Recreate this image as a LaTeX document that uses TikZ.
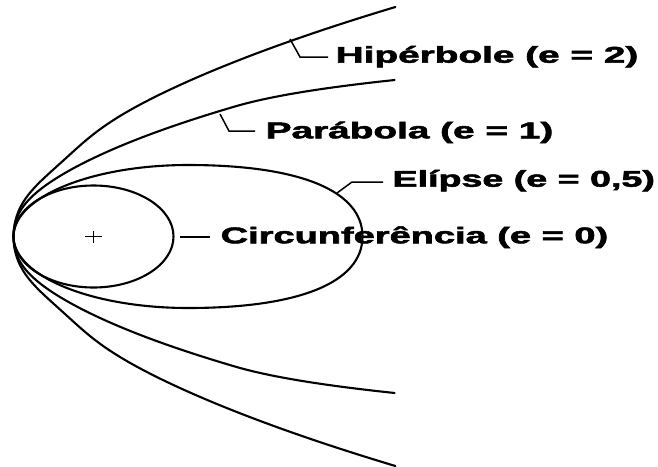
\documentclass[tikz,border=0pt]{standalone}
\usepackage{fontspec}
\setmainfont{Liberation Sans}
\newfontfamily\lblfont[FakeBold=2]{Liberation Sans Bold}
\usepackage{graphicx}
\begin{document}
\begin{tikzpicture}[x=1pt,y=-1pt,
  curve/.style={line width=2.1pt, line join=round, line cap=round},
  leader/.style={line width=1.5pt},
  lbl/.style={anchor=base west, inner sep=0pt, font=\lblfont\fontsize{38}{40}\selectfont}]
\useasboundingbox (0,0) rectangle (658,466);
\fill[white] (0,0) rectangle (658,466);

% circle (e = 0)
\draw[curve] (93.5,236.5) ellipse [x radius=80, y radius=51];
\coordinate (ctr) at (93.5,236.5);
\draw[line width=1.2pt] ([xshift=-8.5pt]ctr) -- ([xshift=8.5pt]ctr)
  ([yshift=6pt]ctr) -- ([yshift=-6pt]ctr);

% ellipse (e = 0,5)
\draw[curve] (13.5,236.5) .. controls (13.5,197) and (91.6,165) .. (188,165)
  .. controls (299.7,165) and (362.5,190.7) .. (362.5,236.5)
  .. controls (362.5,282.3) and (299.7,308) .. (188,308)
  .. controls (91.6,308) and (13.5,276) .. cycle;

% parabola (e = 1)
\draw[curve] plot[domain=-156.5:156.5, samples=181, variable=\t, smooth]
  ({13.5 + (\t/10)*(\t/10)*(1.31 - 0.4*exp(-(\t/40)*(\t/40)) + 0.000353*max(abs(\t)-130,0)*max(abs(\t)-130,0))},
   {236.5-\t});

% hyperbola (e = 2)
\draw[curve] plot[domain=-229.5:229.5, samples=201, variable=\t, smooth]
  ({13.5 + (\t/10)*(\t/10)*(0.725 + 0.17*exp(-min(((abs(\t)-60)/35)*((abs(\t)-60)/35),20)))},
   {236.5-\t});

% labels
\node[lbl] (hyp) at (335.5,62.7) {\scalebox{1.02}[0.6]{Hipérbole (e = 2)}};
\node[lbl] (par) at (265.5,138.3) {\scalebox{1.02}[0.6]{Parábola (e = 1)}};
\node[lbl] (eli) at (392.3,186.7) {\scalebox{0.99}[0.6]{Elípse (e = 0,5)}};
\node[lbl] (cir) at (220.5,243.3) {\scalebox{1.0}[0.6]{Circunferência (e = 0)}};

% leaders
\coordinate (hA) at (290,39);   \coordinate (hB) at (300,57);
\coordinate (pA) at (220,114);  \coordinate (pB) at (229,131);
\coordinate (eA) at (337,193);  \coordinate (eB) at (352,182);
\coordinate (cA) at (180,237);
\draw[leader] (hA) -- (hB) -- ([xshift=-7.5pt]hB -| hyp.west);
\draw[leader] (pA) -- (pB) -- ([xshift=-10.5pt]pB -| par.west);
\draw[leader] (eA) -- (eB) -- ([xshift=-9.3pt]eB -| eli.west);
\draw[leader] (cA) -- ([xshift=-10.5pt]cA -| cir.west);
\end{tikzpicture}
\end{document}
